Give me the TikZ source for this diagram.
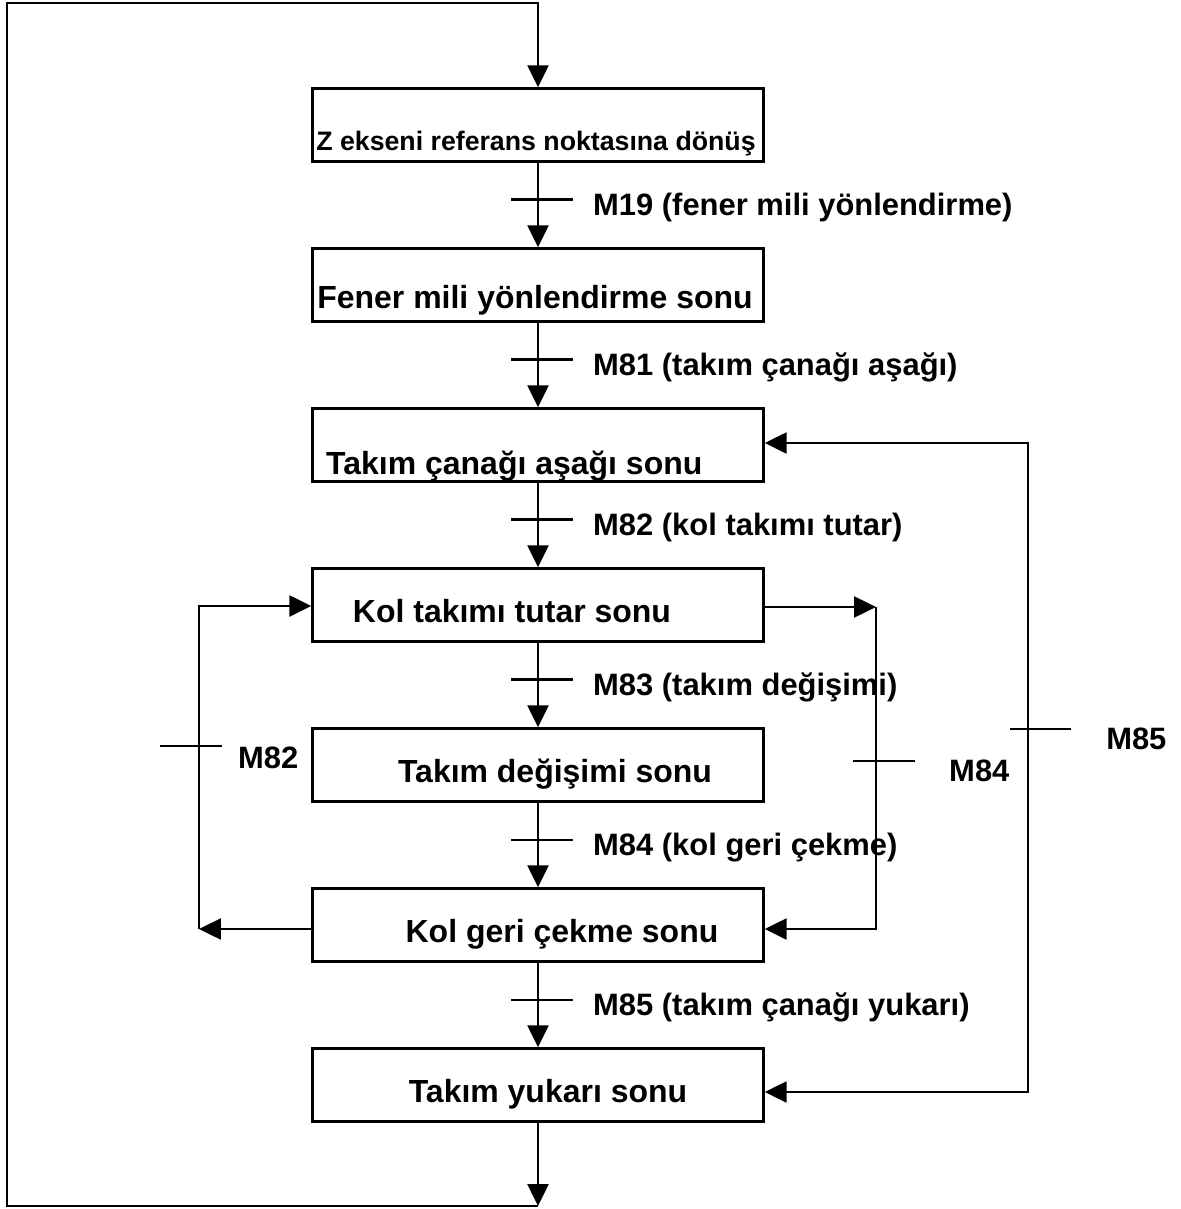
\documentclass[tikz,border=0pt]{standalone}
\usepackage{fontspec}
\setmainfont{Liberation Sans}
\usetikzlibrary{arrows.meta,calc}

\begin{document}
\begin{tikzpicture}[x=0.02cm,y=-0.02cm,line width=1.4pt,
  box/.style={draw,minimum width=9.02cm,minimum height=1.46cm,inner sep=0pt},
  arr/.style={-{Triangle[length=0.44cm,width=0.42cm]}},
  arrr/.style={{Triangle[length=0.44cm,width=0.42cm]}-{Triangle[length=0.44cm,width=0.42cm]}},
  txt/.style={anchor=base,inner sep=0pt,font=\fontsize{18.2}{20}\selectfont\bfseries},
  lab/.style={anchor=base west,inner sep=0pt,font=\fontsize{17.6}{20}\selectfont\bfseries}]
\useasboundingbox (0,0) rectangle (1180,1209);
\foreach \i/\y in {1/125,2/285,3/445,4/605,5/765,6/925,7/1085}
  \node[box] (b\i) at (538,\y) {};
\node[txt,font=\fontsize{15.2}{16}\selectfont\bfseries] (t1) at (536,151) {Z ekseni referans noktasına dönüş};
\node[txt] (t2) at (535,308) {Fener mili yönlendirme sonu};
\node[txt,anchor=base west] (t3) at (325,474) {Takım çanağı aşağı sonu};
\node[txt] (t4) at (512,622) {Kol takımı tutar sonu};
\node[txt] (t5) at (555,782) {Takım değişimi sonu};
\node[txt] (t6) at (562,942) {Kol geri çekme sonu};
\node[txt] (t7) at (548,1102) {Takım yukarı sonu};
% main chain
\foreach \i/\j/\m in {1/2/M19 (fener mili yönlendirme),2/3/M81 (takım çanağı aşağı),3/4/M82 (kol takımı tutar),4/5/M83 (takım değişimi),5/6/M84 (kol geri çekme),6/7/M85 (takım çanağı yukarı)}{
  \draw[arr] (b\i.south) -- (b\j.north);
  \draw ($(b\i.south)+(-27,37)$) -- ++(62,0);
  \node[lab] (l\i) at ($(b\i.south)+(54,53)$) {\m};
}
% outer loop
\coordinate (lpb) at (538,1206); \coordinate (lpbl) at (7,1206);
\coordinate (lptl) at (7,3); \coordinate (lpt) at (538,3);
\draw[arr] (b7.south) -- (lpb);
\draw[arr] (lpb) -- (lpbl) -- (lptl) -- (lpt) -- (b1.north);
% M82 loop
\coordinate (m82b) at (199,929); \coordinate (m82t) at (199,606);
\draw[arr] (b6.west |- m82b) -- (m82b);
\draw[arr] (m82b) -- (m82t) -- (b4.west |- m82t);
\draw ($(m82t)+(-39,140)$) -- ++(62,0);
\node[lab] (s82) at (237,768) {M82};
% M84 loop
\coordinate (m84t) at (876,607); \coordinate (m84b) at (876,929);
\draw[arr] (b4.east |- m84t) -- (m84t);
\draw[arr] (m84t) -- (m84b) -- (b6.east |- m84b);
\draw ($(m84t)+(-23,154)$) -- ++(62,0);
\node[lab] (s84) at (948,781) {M84};
% M85 loop
\coordinate (m85t) at (1028,443); \coordinate (m85b) at (1028,1092);
\draw[arrr] (b3.east |- m85t) -- (m85t) -- (m85b) -- (b7.east |- m85b);
\draw ($(m85t)+(-18,286)$) -- ++(61,0);
\node[lab] (s85) at (1105,749) {M85};
\end{tikzpicture}
\end{document}
